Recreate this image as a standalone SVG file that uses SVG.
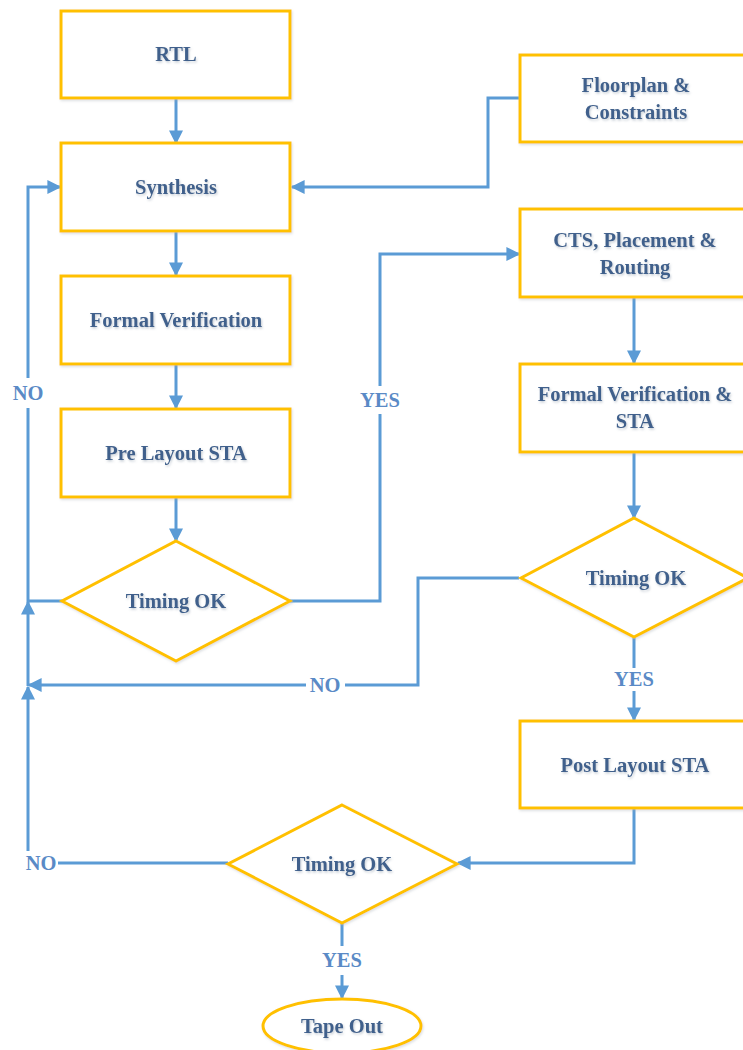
<svg xmlns="http://www.w3.org/2000/svg" width="743" height="1050" viewBox="0 0 743 1050">
<style>
.box{fill:#fff;stroke:#FFC000;stroke-width:3}
.t{font-family:"Liberation Serif","Times New Roman",serif;font-weight:bold;font-size:20.5px;fill:#41618C;text-anchor:middle;filter:url(#sh)}
.lbl{font-family:"Liberation Serif","Times New Roman",serif;font-weight:bold;font-size:20.5px;fill:#5A8AC6;text-anchor:middle}
.c{fill:none;stroke:#5B9BD5;stroke-width:3}
.a{marker-end:url(#arr)}
</style>
<defs>
<marker id="arr" viewBox="0 0 10 10" refX="9" refY="5" markerWidth="14" markerHeight="14" markerUnits="userSpaceOnUse" orient="auto">
<path d="M0,0 L10,5 L0,10 z" fill="#5B9BD5"/>
</marker>
<filter id="sh" x="-10%" y="-30%" width="120%" height="160%">
<feDropShadow dx="1" dy="1.5" stdDeviation="1" flood-color="#8090a0" flood-opacity="0.45"/>
</filter>
<filter id="bs" x="-5%" y="-10%" width="110%" height="120%">
<feDropShadow dx="1" dy="1.5" stdDeviation="1.2" flood-color="#a0a8b0" flood-opacity="0.35"/>
</filter>
</defs>
<rect width="743" height="1050" fill="#fff"/>
<g id="connectors">
<path class="c a" d="M176 98 V143"/>
<path class="c a" d="M176 231 V275"/>
<path class="c a" d="M176 364 V408"/>
<path class="c a" d="M176 497 V541"/>
<path class="c" d="M290 601 H380 V414"/>
<path class="c a" d="M380 386 V254 H519"/>
<path class="c a" d="M519 98 H488 V187 H292"/>
<path class="c a" d="M634 297 V363"/>
<path class="c a" d="M634 452 V518"/>
<path class="c" d="M634 637 V668"/>
<path class="c a" d="M634 691 V720"/>
<path class="c a" d="M634 808 V863 H458"/>
<path class="c" d="M342 923 V946"/>
<path class="c a" d="M342 975 V998"/>
<path class="c" d="M519 578 H418 V685 H345"/>
<path class="c a" d="M306 685 H29"/>
<path class="c" d="M228 863 H58"/>
<path class="c a" d="M28 851 V687"/>
<path class="c a" d="M28 686 V602"/>
<path class="c" d="M62 601 H28 V408"/>
<path class="c a" d="M28 378 V187 H60"/>
<text class="lbl" x="380" y="407">YES</text>
<text class="lbl" x="28" y="400">NO</text>
<text class="lbl" x="325" y="692">NO</text>
<text class="lbl" x="634" y="686">YES</text>
<text class="lbl" x="41" y="870">NO</text>
<text class="lbl" x="342" y="967">YES</text>
</g>
<g id="rtl"><rect class="box" x="61" y="11" width="229" height="87" filter="url(#bs)"/><text class="t" x="176" y="61">RTL</text></g>
<g id="synthesis"><rect class="box" x="61" y="143" width="229" height="88" filter="url(#bs)"/><text class="t" x="176" y="194">Synthesis</text></g>
<g id="formal"><rect class="box" x="61" y="276" width="229" height="88" filter="url(#bs)"/><text class="t" x="176" y="327">Formal Verification</text></g>
<g id="prelayout"><rect class="box" x="61" y="409" width="229" height="88" filter="url(#bs)"/><text class="t" x="176" y="460">Pre Layout STA</text></g>
<g id="timing1"><polygon class="box" points="176,541 290,601 176,661 62,601" filter="url(#bs)"/><text class="t" x="176" y="608">Timing OK</text></g>
<g id="floorplan"><rect class="box" x="520" y="55" width="240" height="87" filter="url(#bs)"/><text class="t" x="636" y="92">Floorplan &amp;</text><text class="t" x="636" y="119">Constraints</text></g>
<g id="cts"><rect class="box" x="520" y="209" width="240" height="88" filter="url(#bs)"/><text class="t" x="635" y="247">CTS, Placement &amp;</text><text class="t" x="635" y="274">Routing</text></g>
<g id="formalsta"><rect class="box" x="520" y="364" width="240" height="88" filter="url(#bs)"/><text class="t" x="635" y="401">Formal Verification &amp;</text><text class="t" x="635" y="428">STA</text></g>
<g id="timing2"><polygon class="box" points="634,518 748,578 634,637 521,578" filter="url(#bs)"/><text class="t" x="636" y="585">Timing OK</text></g>
<g id="postlayout"><rect class="box" x="520" y="721" width="240" height="87" filter="url(#bs)"/><text class="t" x="635" y="772">Post Layout STA</text></g>
<g id="timing3"><polygon class="box" points="342,805 457,864 342,923 228,864" filter="url(#bs)"/><text class="t" x="342" y="871">Timing OK</text></g>
<g id="tapeout"><ellipse class="box" cx="342" cy="1026" rx="79" ry="27" filter="url(#bs)"/><text class="t" x="342" y="1033">Tape Out</text></g>
</svg>
